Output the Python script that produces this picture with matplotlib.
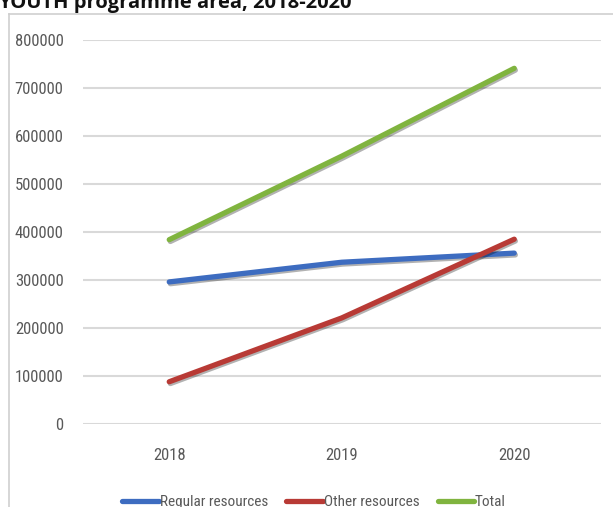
import matplotlib
matplotlib.use("Agg")
import matplotlib.pyplot as plt
import matplotlib.patheffects as pe
from matplotlib import font_manager
from matplotlib.lines import Line2D

# resource figures for the youth programme area
years = ["2018", "2019", "2020"]
regular = [296000, 337000, 356000]
other = [88000, 221000, 385000]
total = [r + o for r, o in zip(regular, other)]

def pick_font(names):
    for n in names:
        try:
            font_manager.findfont(n, fallback_to_default=False)
            return n
        except Exception:
            pass
    return "DejaVu Sans"

narrow = pick_font(["Liberation Sans Narrow", "Roboto Condensed", "Liberation Sans"])
W, H = 613, 507
fig = plt.figure(figsize=(W / 100, H / 100), dpi=100)

def fx(px):
    return px / W

def fy(py):
    return 1 - py / H

# chart frame
fig.add_artist(Line2D([fx(8.5), fx(620)], [fy(13.5), fy(13.5)], color="#cfcfcf", lw=1.2))
fig.add_artist(Line2D([fx(8.5), fx(8.5)], [fy(13.5), fy(520)], color="#cfcfcf", lw=1.2))

fig.text(fx(-2), fy(8), "YOUTH programme area, 2018-2020", fontsize=14.5, fontweight="bold",
         family="Open Sans", color="#111111", va="baseline", ha="left")

ax = fig.add_axes([fx(83), fy(424), fx(600.5) - fx(83), fy(40) - fy(424)])
ax.set_xlim(-0.5, 2.5)
ax.set_ylim(0, 800000)
ax.set_yticks(range(0, 800001, 100000))
ax.grid(axis="y", color="#d9d9d9", lw=1.5)
ax.set_axisbelow(True)
for s in ax.spines.values():
    s.set_visible(False)
ax.tick_params(length=0, colors="#595959", labelsize=12, pad=14)
ax.tick_params(axis="x", pad=17)
ax.set_xticks(range(len(years)))
ax.set_xticklabels(years)
for lab in ax.get_xticklabels() + ax.get_yticklabels():
    lab.set_family(narrow)

shadow = [pe.SimpleLineShadow(offset=(0.8, -1.3), shadow_color="black", alpha=0.3), pe.Normal()]
series = [("Regular resources", regular, "#3d6cc0"),
          ("Other resources", other, "#b83a35"),
          ("Total", total, "#80b43f")]
for name, vals, col in series:
    ax.plot(range(len(years)), vals, color=col, lw=3.8, solid_capstyle="round",
            label=name, path_effects=shadow)

leg = fig.legend(loc="center", bbox_to_anchor=(fx(314), fy(502)), ncol=3, frameon=False,
                 handlelength=2.4, handletextpad=0.05, columnspacing=1.2,
                 prop={"family": narrow, "size": 11})
for t in leg.get_texts():
    t.set_color("#595959")
for h in leg.legend_handles:
    h.set_path_effects([])

fig.savefig("out.png", dpi=100)
